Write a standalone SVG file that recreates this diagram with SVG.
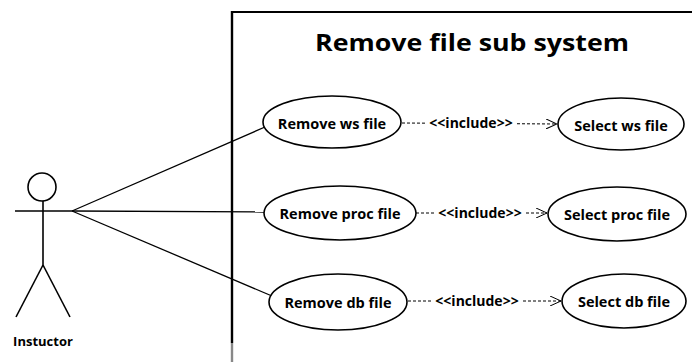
<svg xmlns="http://www.w3.org/2000/svg" width="692" height="362" viewBox="0 0 692 362">
  <style>
    .uc { fill: #ffffff; stroke: #000000; stroke-width: 1.6; }
    .lbl { font-family: "Open Sans", "Liberation Sans", sans-serif; font-weight: bold; font-size: 14.5px; fill: #000000; text-anchor: middle; dominant-baseline: central; }
    .assoc { stroke: #000000; stroke-width: 1.3; fill: none; }
    .inc { stroke: #000000; stroke-width: 1; stroke-dasharray: 3 2; fill: none; }
    .stereo { font-family: "Open Sans", "Liberation Sans", sans-serif; font-weight: bold; font-size: 14px; fill: #000000; text-anchor: middle; dominant-baseline: central; }
  </style>
  <defs>
    <marker id="open" markerWidth="12" markerHeight="10" refX="11" refY="5" orient="auto" markerUnits="userSpaceOnUse">
      <path d="M0,0 L11,5 L0,10" fill="none" stroke="#000" stroke-width="1"/>
    </marker>
  </defs>
  <rect width="692" height="362" fill="#ffffff"/>

  <!-- system boundary -->
  <g id="boundary">
    <line x1="232" y1="12" x2="692" y2="12" stroke="#000" stroke-width="2.2"/>
    <line x1="232" y1="11" x2="232" y2="343" stroke="#000" stroke-width="2.4"/>
    <line x1="232" y1="343" x2="232" y2="362" stroke="#888" stroke-width="2.4"/>
    <text x="472" y="51" font-family="Open Sans, Liberation Sans, sans-serif" font-weight="bold" font-size="23" text-anchor="middle" textLength="314" lengthAdjust="spacingAndGlyphs">Remove file sub system</text>
  </g>

  <!-- actor -->
  <g id="actor-instructor" stroke="#000" stroke-width="1.6" fill="none">
    <circle cx="42" cy="187" r="14"/>
    <line x1="43" y1="201" x2="43" y2="265"/>
    <line x1="15" y1="211" x2="72" y2="211"/>
    <line x1="43" y1="265" x2="16" y2="317"/>
    <line x1="43" y1="265" x2="70" y2="317"/>
    <text x="43" y="341" stroke="none" fill="#000" font-family="Open Sans, Liberation Sans, sans-serif" font-weight="bold" font-size="13" text-anchor="middle" dominant-baseline="central">Instuctor</text>
  </g>

  <!-- connectors -->
  <g id="connectors">
    <line class="assoc" x1="72" y1="211" x2="265" y2="127"/>
    <line class="assoc" x1="72" y1="211" x2="264" y2="212" stroke="#555"/>
    <line class="assoc" x1="72" y1="211" x2="272" y2="296"/>

    <line class="inc" x1="402" y1="123" x2="557" y2="124" marker-end="url(#open)"/>
    <rect x="427" y="113" width="89" height="20" fill="#fff"/>
    <text class="stereo" x="471" y="122">&lt;&lt;include&gt;&gt;</text>

    <line class="inc" x1="416" y1="213" x2="547" y2="213" marker-end="url(#open)"/>
    <rect x="436" y="203" width="89" height="20" fill="#fff"/>
    <text class="stereo" x="480" y="212">&lt;&lt;include&gt;&gt;</text>

    <line class="inc" x1="408" y1="301" x2="561" y2="301" marker-end="url(#open)"/>
    <rect x="433" y="291" width="89" height="20" fill="#fff"/>
    <text class="stereo" x="477" y="300">&lt;&lt;include&gt;&gt;</text>
  </g>

  <!-- use cases -->
  <g id="uc-remove-ws">
    <ellipse class="uc" cx="332" cy="122" rx="69" ry="26"/>
    <text class="lbl" x="332" y="123">Remove ws file</text>
  </g>
  <g id="uc-select-ws">
    <ellipse class="uc" cx="621" cy="124" rx="63" ry="26"/>
    <text class="lbl" x="621" y="125">Select ws file</text>
  </g>
  <g id="uc-remove-proc">
    <ellipse class="uc" cx="340" cy="213" rx="76" ry="27"/>
    <text class="lbl" x="340" y="213">Remove proc file</text>
  </g>
  <g id="uc-select-proc">
    <ellipse class="uc" cx="617" cy="214" rx="69" ry="27"/>
    <text class="lbl" x="617" y="214">Select proc file</text>
  </g>
  <g id="uc-remove-db">
    <ellipse class="uc" cx="338" cy="302" rx="69" ry="28"/>
    <text class="lbl" x="338" y="302">Remove db file</text>
  </g>
  <g id="uc-select-db">
    <ellipse class="uc" cx="624" cy="301" rx="62" ry="27"/>
    <text class="lbl" x="624" y="301">Select db file</text>
  </g>
</svg>
